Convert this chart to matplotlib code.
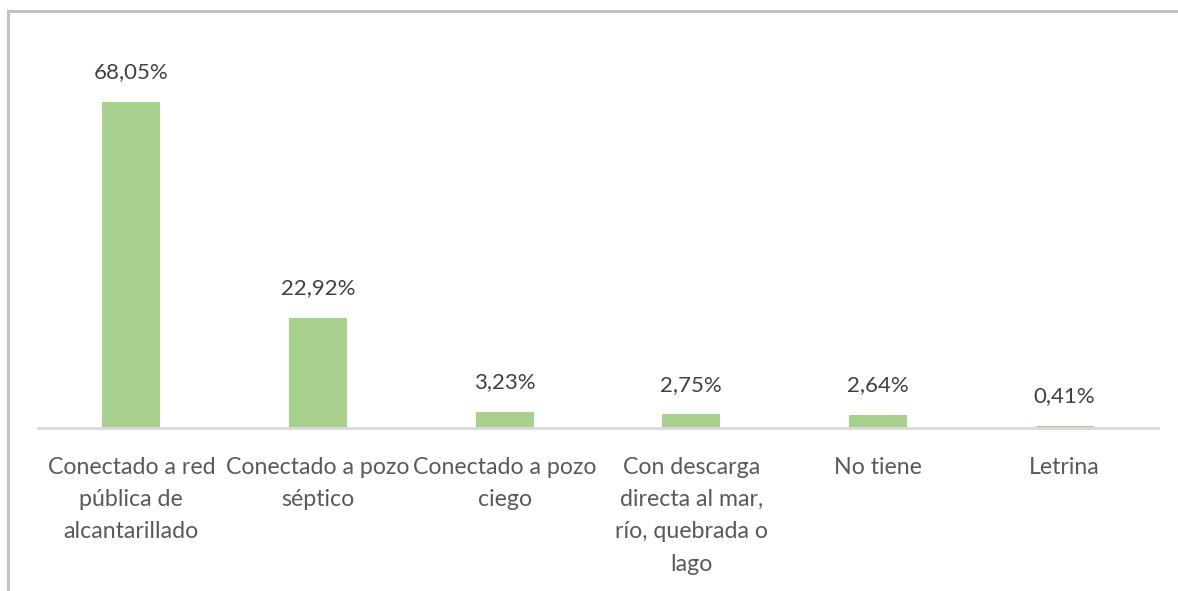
import matplotlib
matplotlib.use("Agg")
import matplotlib.pyplot as plt
from matplotlib.patches import Rectangle

categories = [
    "Conectado a red\npública de\nalcantarillado",
    "Conectado a pozo\nséptico",
    "Conectado a pozo\nciego",
    "Con descarga\ndirecta al mar,\nrío, quebrada o\nlago",
    "No tiene",
    "Letrina",
]
values = [68.05, 22.92, 3.23, 2.75, 2.64, 0.41]
value_labels = ["68,05%", "22,92%", "3,23%", "2,75%", "2,64%", "0,41%"]

W, H = 1178, 591
fig = plt.figure(figsize=(W / 100, H / 100), dpi=100)
fig.patch.set_facecolor("white")

# outer border (only top and left visible in the crop)
fig.patches.append(Rectangle((7.5 / W, -0.1), 1.2, (H - 10.5) / H + 0.1,
                             transform=fig.transFigure, fill=False,
                             edgecolor="#C3C3C3", linewidth=2.2))

ax_left, ax_right = 38, 1158
ax_bottom, ax_top = 427.5, 28
ax = fig.add_axes([ax_left / W, 1 - ax_bottom / H, (ax_right - ax_left) / W,
                   (ax_bottom - ax_top) / H])
ppu = (427.5 - 101.5) / 68.05
ax.set_ylim(0, (ax_bottom - ax_top) / ppu)
ax.set_xlim(-0.5, len(values) - 0.5)

x = list(range(len(values)))
ax.bar(x, values, width=0.31, color="#A9D18E", zorder=2)

for xi, v, lab in zip(x, values, value_labels):
    ax.annotate(lab, (xi, v), xytext=(0, 14), textcoords="offset points",
                ha="center", va="bottom", fontsize=16, color="#404040",
                family="Lato")

for s in ["top", "right", "left"]:
    ax.spines[s].set_visible(False)
ax.spines["bottom"].set_color("#D9D9D9")
ax.spines["bottom"].set_linewidth(2)
ax.set_yticks([])
ax.set_xticks(x)
ax.set_xticklabels(categories, fontsize=16.7, color="#595959", family="Lato",
                   linespacing=1.67)
ax.tick_params(axis="x", length=0, pad=21)

fig.savefig("out.png", dpi=100)
